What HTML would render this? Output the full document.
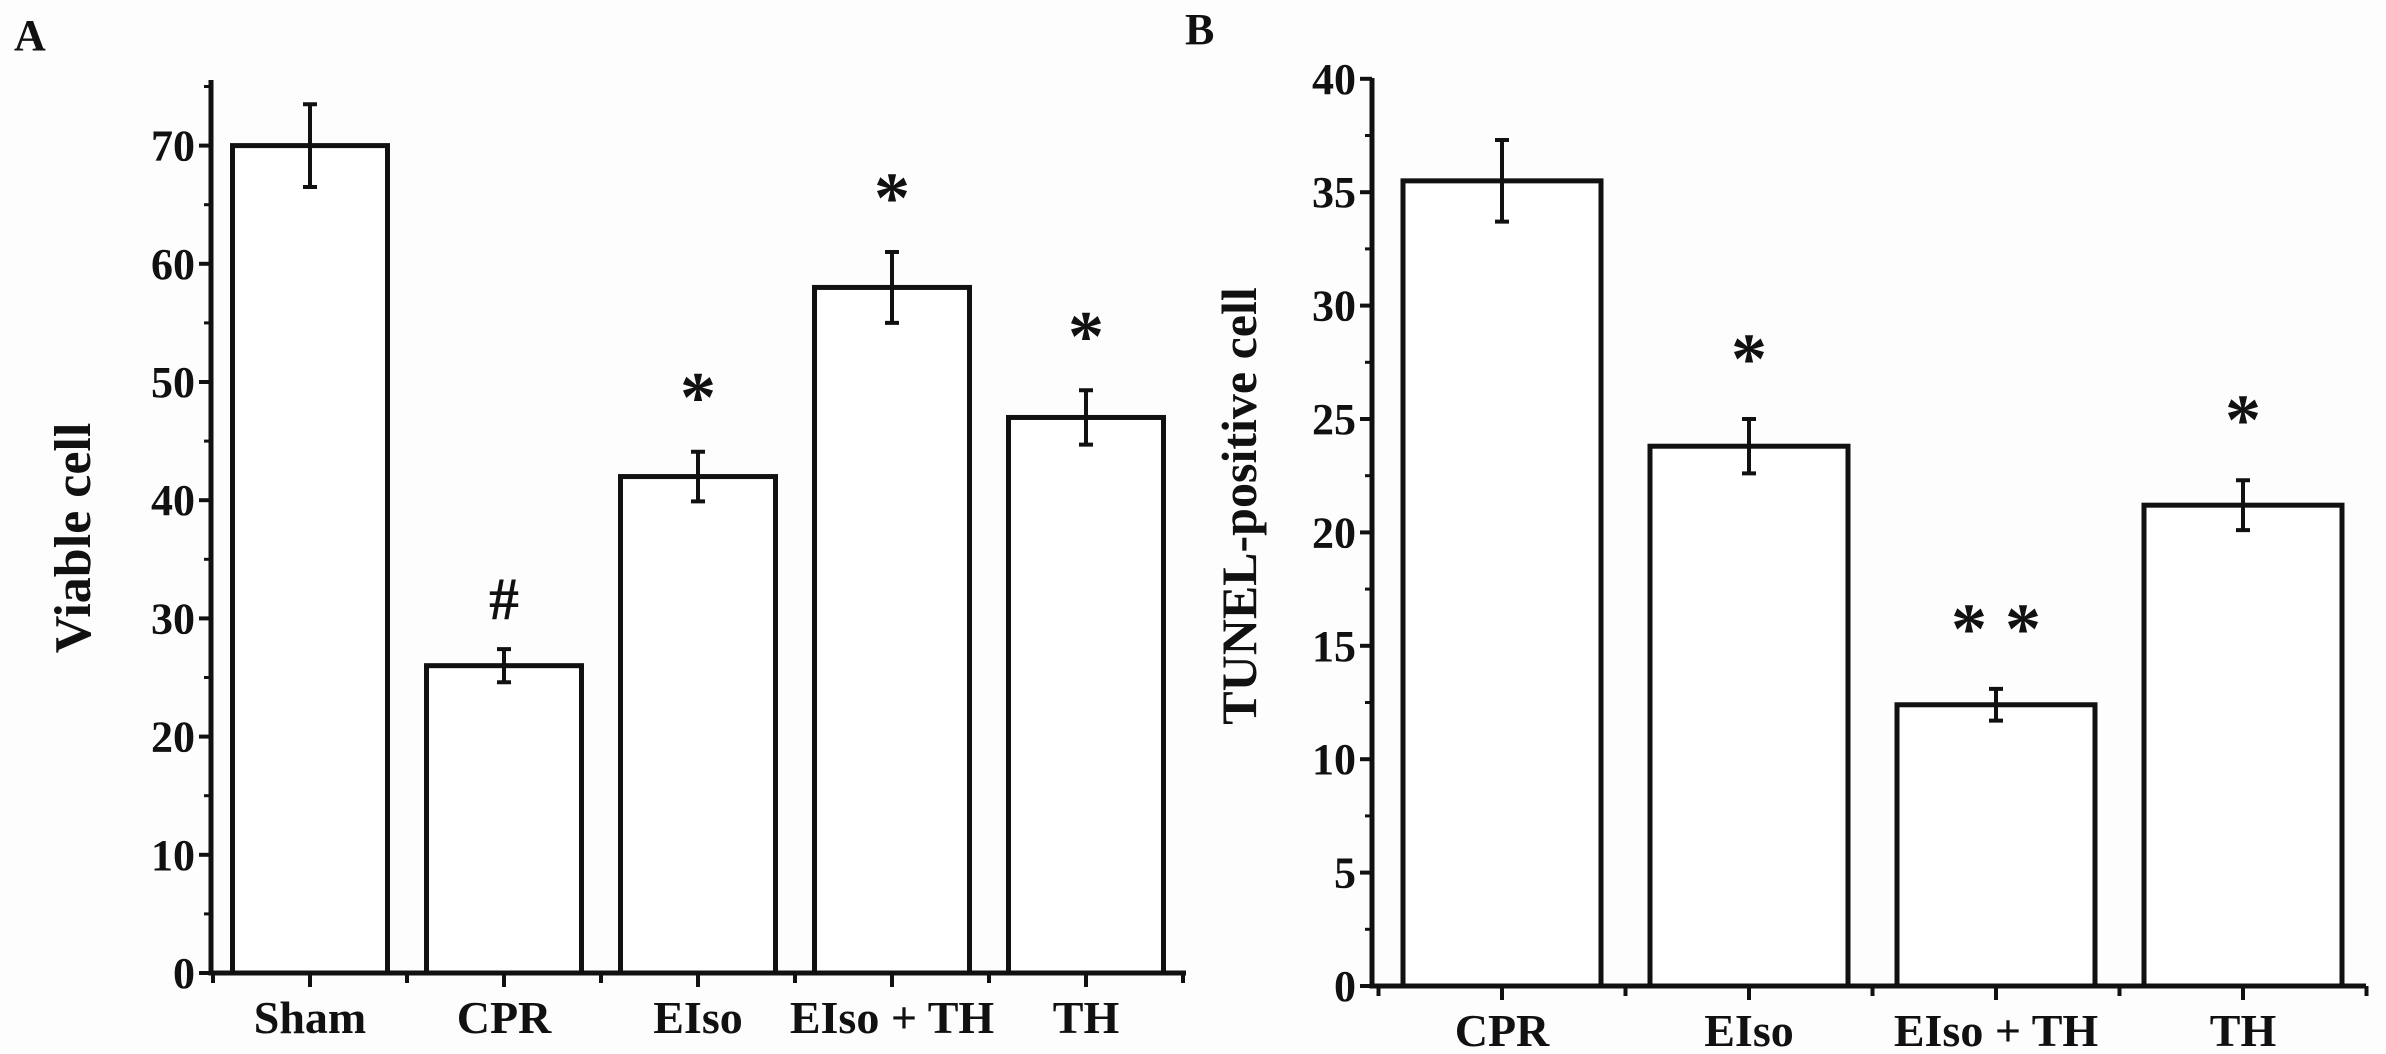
<!DOCTYPE html>
<html><head><meta charset="utf-8"><style>
html,body{margin:0;padding:0;background:#fff;}
svg{display:block;}
text{font-family:"Liberation Serif",serif;font-weight:bold;fill:#111;}
</style></head><body>
<svg id="chart" width="2386" height="1054" viewBox="0 0 2386 1054" xmlns="http://www.w3.org/2000/svg">
<rect width="2386" height="1054" fill="#fdfdfd"/>
<text x="14" y="50" font-size="44">A</text>
<text x="1185" y="44" font-size="44">B</text>
<text transform="translate(90,538) rotate(-90)" text-anchor="middle" font-size="52">Viable cell</text>
<text transform="translate(1256,506) rotate(-90)" text-anchor="middle" font-size="50">TUNEL-positive cell</text>
<g id="pa"></g>
<g id="pb"></g>
</svg>
<script>
const catsA = ["Sham","CPR","EIso","EIso + TH","TH"];
const valsA = [70,26,42,58,47];
const errsA = [3.5,1.4,2.1,3,2.3];
const sigA = ["","#","*","*","*"];
const ticksA = [0,10,20,30,40,50,60,70];
const catsB = ["CPR","EIso","EIso + TH","TH"];
const valsB = [35.5,23.8,12.4,21.2];
const errsB = [1.8,1.2,0.7,1.1];
const sigB = ["","*","* *","*"];
const ticksB = [0,5,10,15,20,25,30,35,40];

const NS="http://www.w3.org/2000/svg";
function mk(parent,tag,attrs,txt){const e=document.createElementNS(NS,tag);for(const k in attrs)e.setAttribute(k,attrs[k]);if(txt!==undefined)e.textContent=txt;parent.appendChild(e);return e;}

function drawPanel(g,cfg,cats,vals,errs,sig,ticks){
  const y=v=>cfg.y0-(v-0)*cfg.ppu;
  const x=i=>cfg.c0+i*cfg.step;
  // bars
  vals.forEach((v,i)=>{
    const b=mk(g,'rect',{x:x(i)-cfg.bw/2,y:y(v),width:cfg.bw,height:cfg.y0-y(v),fill:'#fff',stroke:'#111','stroke-width':5});
    
    
    const e=mk(g,'path',{d:`M${x(i)} ${y(v-errs[i])}V${y(v+errs[i])}M${x(i)-7} ${y(v-errs[i])}h14M${x(i)-7} ${y(v+errs[i])}h14`,stroke:'#111','stroke-width':4,fill:'none'});
    
    
    if(sig[i]){
      const s=mk(g,'text',{x:x(i),y:y(v+errs[i])-cfg.sigGap,'text-anchor':'middle','font-size':sig[i]==='#'?60:72},sig[i]);
      
      
    }
    const l=mk(g,'text',{x:x(i),y:cfg.labY,'text-anchor':'middle','font-size':46},cats[i]);
    
    
  });
  // axes
  const ax=mk(g,'path',{d:`M${cfg.ax} ${cfg.yTop}V${cfg.y0}H${cfg.xEnd}`,stroke:'#111','stroke-width':5,fill:'none'});
  
  
  ticks.forEach((t,k)=>{
    mk(g,'line',{x1:cfg.ax-12,x2:cfg.ax,y1:y(t),y2:y(t),stroke:'#111','stroke-width':4});
    if(k<ticks.length-1||cfg.minorTop) mk(g,'line',{x1:cfg.ax-7,x2:cfg.ax,y1:y(t+cfg.tstep/2),y2:y(t+cfg.tstep/2),stroke:'#111','stroke-width':3});
    const tl=mk(g,'text',{x:cfg.ax-16,y:y(t)+15,'text-anchor':'end','font-size':44},String(t));
    
    
  });
  for(let i=-0.5;i<cats.length;i+=0.5){
    const xx=x(i); if(xx<cfg.ax) continue;
    mk(g,'line',{x1:xx,x2:xx,y1:cfg.y0,y2:cfg.y0+(Number.isInteger(i)?14:10),stroke:'#111','stroke-width':4});
  }
}
drawPanel(document.getElementById('pa'),{y0:973,ppu:11.82,c0:310,step:194,bw:155,ax:211,yTop:80,xEnd:1186,labY:1033,sigGap:30,tstep:10,minorTop:true},catsA,valsA,errsA,sigA,ticksA);
drawPanel(document.getElementById('pb'),{y0:986,ppu:22.68,c0:1502,step:247,bw:198,ax:1372,yTop:78,xEnd:2366,labY:1046,sigGap:36,tstep:5,minorTop:false},catsB,valsB,errsB,sigB,ticksB);
</script>
</body></html>
